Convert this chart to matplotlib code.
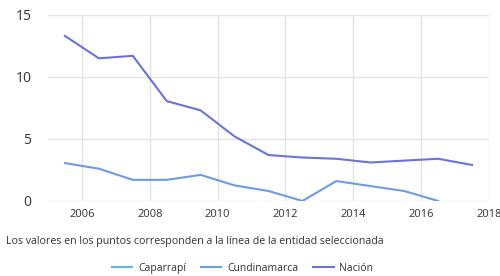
import matplotlib
matplotlib.use('Agg')
import matplotlib.pyplot as plt
from matplotlib.lines import Line2D

plt.rcParams['font.family'] = ['Open Sans', 'DejaVu Sans']

# ── Datos ─────────────────────────────────────────────────────────────
years = [2005.5, 2006.5, 2007.5, 2008.5, 2009.5, 2010.5, 2011.5,
         2012.5, 2013.5, 2014.5, 2015.5, 2016.5, 2017.5]
nacion = [13.3, 11.5, 11.7, 8.05, 7.3, 5.2, 3.7, 3.5, 3.4, 3.1, 3.25, 3.4, 2.9]
cund_years = [2005.5, 2006.5, 2007.5, 2008.5, 2009.5, 2010.5, 2011.5,
              2012.5, 2013.5, 2014.5, 2015.5, 2016.5]
cundinamarca = [3.05, 2.6, 1.7, 1.7, 2.1, 1.25, 0.8, 0.0, 1.6, 1.2, 0.8, 0.0]
caparrapi = []

xticks = [2006, 2008, 2010, 2012, 2014, 2016, 2018]
yticks = [0, 5, 10, 15]

COLORS = {
    'caparrapi': '#5DB5EA',
    'cund': '#6C9BE8',
    'nacion': '#6A72E0',
}

fig = plt.figure(figsize=(5.0, 2.76), dpi=100)
ax = fig.add_axes([0.096, 0.272, 0.882, 0.674])

ax.plot(cund_years, cundinamarca, color=COLORS['cund'], lw=1.5)
ax.plot(years, nacion, color=COLORS['nacion'], lw=1.5)

ax.set_xlim(2005, 2018)
ax.set_ylim(0, 15)
ax.set_xticks(xticks)
ax.set_yticks(yticks)
ax.grid(True, color='#E3E3E3', lw=1)
ax.set_axisbelow(True)
for s in ax.spines.values():
    s.set_visible(False)
ax.tick_params(length=0, labelsize=8, colors='#333333')
ax.tick_params(axis='y', labelsize=10, pad=12)
ax.tick_params(axis='x', pad=6)
for lbl in ax.get_xticklabels():
    lbl.set_clip_on(False)

fig.text(0.012, 0.125, 'Los valores en los puntos corresponden a la línea de la entidad seleccionada',
         fontsize=7.7, color='#333333', va='center')

handles = [Line2D([], [], color=COLORS['caparrapi'], lw=1.5),
           Line2D([], [], color=COLORS['cund'], lw=1.5),
           Line2D([], [], color=COLORS['nacion'], lw=1.5)]
fig.legend(handles, ['Caparrapí', 'Cundinamarca', 'Nación'],
           loc='center', bbox_to_anchor=(0.485, 0.028), ncol=3, frameon=False,
           fontsize=7.5, handlelength=2.0, columnspacing=1.4, handletextpad=0.55,
           labelcolor='#333333')

fig.savefig('out.png', dpi=100)
